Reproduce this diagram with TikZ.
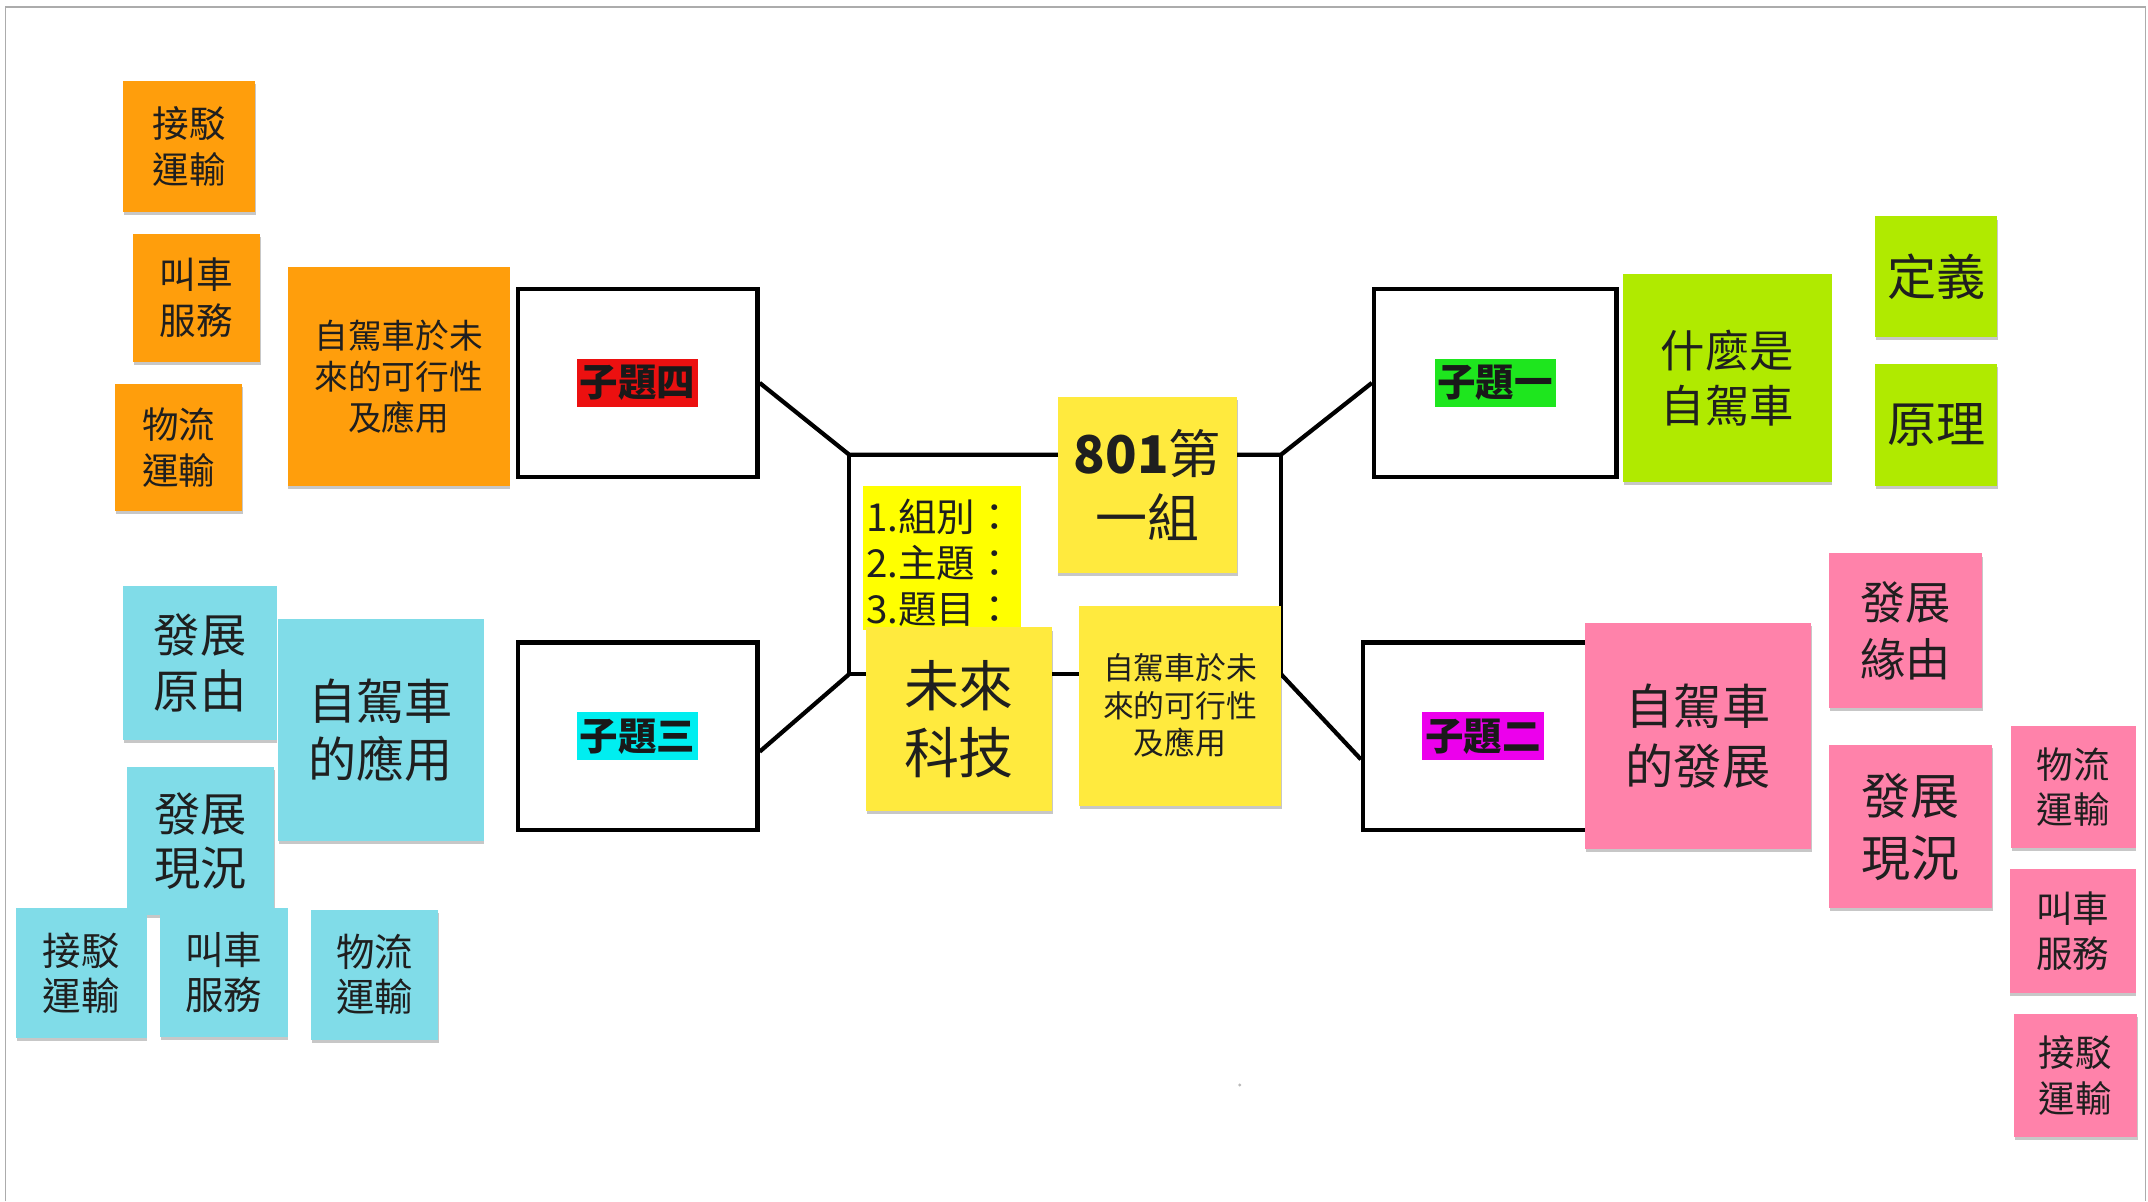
\documentclass[tikz,border=0pt]{standalone}
\usepackage{fontspec}
\setmainfont{Noto Sans CJK TC}
\usetikzlibrary{shadows,fit,calc}
\definecolor{cOrange}{RGB}{255,158,12}
\definecolor{cYellow}{RGB}{255,234,62}
\definecolor{cHL}{RGB}{255,255,0}
\definecolor{cLime}{RGB}{176,234,0}
\definecolor{cPink}{RGB}{255,130,170}
\definecolor{cCyan}{RGB}{128,220,232}
\definecolor{tRed}{RGB}{236,16,16}
\definecolor{tGreen}{RGB}{30,230,30}
\definecolor{tMag}{RGB}{236,0,236}
\definecolor{tCyan}{RGB}{0,238,240}
\newcommand\fsz[2]{\fontsize{#1pt}{#2pt}\selectfont}
% \sticky{name}{x1}{y1}{x2}{y2}{colour}{font}{text}
\newcommand\sticky[8]{\node[note, fill=#6, font=#7,
  minimum width={(#4-#2)*0.025cm}, minimum height={(#5-#3)*0.025cm}]
  (#1) at ({(#2+#4)/2},{(#3+#5)/2}) {#8};}
\begin{document}
\begin{tikzpicture}[x=0.025cm,y=-0.025cm,
  note/.style={inner sep=0pt, draw=none, align=center, text=black!88,
    drop shadow={shadow xshift=0.4pt, shadow yshift=-1.6pt, opacity=0.22, fill=black}},
  topicbox/.style={draw=black, line width=2.2pt, fill=white, inner sep=0pt},
  tag/.style={inner sep=0pt, minimum width=63pt, minimum height=25pt, text=black!90,
    font=\fsz{20}{24}\bfseries},
  wire/.style={draw=black, line width=2.2pt, line join=miter}]
\useasboundingbox (0,0) rectangle (1568,877);
\fill[white] (0,0) rectangle (1568,877);
\draw[gray!65, line width=0.8pt] (4,877) -- (4,5) -- (1566,5) -- (1566,877);

% topic boxes
\node[topicbox, fit={(378,211) (553,348)}] (b4) {};
\node[topicbox, fit={(378,469) (553,606)}] (b3) {};
\node[topicbox, fit={(1003,211) (1180,348)}] (b1) {};
\node[topicbox, fit={(995,469) (1170,606)}] (b2) {};
\node[tag, fill=tRed] (t4) at (b4) {子題四};
\node[tag, fill=tCyan] (t3) at (b3) {子題三};
\node[tag, fill=tGreen] (t1) at (b1) {子題一};
\node[tag, fill=tMag] (t2) at (b2) {子題二};

% connectors
\coordinate (c1) at (620,332);
\coordinate (c2) at (935,332);
\coordinate (c3) at (620,492);
\coordinate (c4) at (935,492);
\draw[wire] (b4.east) -- (c1) -- (c2) -- (b1.west);
\draw[wire] (c1) -- (c3) -- (c4) -- (c2);
\draw[wire] (c3) -- ($(b3.north east)!0.58!(b3.south east)$);
\draw[wire] (c4) -- ($(b2.north west)!0.62!(b2.south west)$);

% orange
\sticky{o1}{90}{59}{186}{155}{cOrange}{\fsz{19}{24}}{接駁\\運輸}
\sticky{o2}{97}{171}{190}{264}{cOrange}{\fsz{19}{24}}{叫車\\服務}
\sticky{o3}{84}{280}{177}{373}{cOrange}{\fsz{19}{24}}{物流\\運輸}
\sticky{o4}{210}{195}{372}{355}{cOrange}{\fsz{17.5}{21.5}}{自駕車於未\\來的可行性\\及應用}

% yellow centre
\sticky{y1}{772}{290}{903}{418}{cYellow}{\fsz{27}{33}}{{\bfseries 801}第\\一組}
\node[fill=cHL, inner sep=0pt, fit={(630,355) (745,460)}] (hl) {};
\node[anchor=north west, align=left, inner sep=0pt, font=\fsz{20}{24}, text=black!88] (ql) at (632,364) {1.組別：\\2.主題：\\3.題目：};
\sticky{y2}{632}{458}{768}{592}{cYellow}{\fsz{28.5}{35}}{未來\\科技}
\sticky{y3}{788}{442}{935}{588}{cYellow}{\fsz{16}{19.5}}{自駕車於未\\來的可行性\\及應用}

% lime
\sticky{g1}{1185}{200}{1337}{352}{cLime}{\fsz{23}{28.5}}{什麼是\\自駕車}
\sticky{g2}{1369}{158}{1458}{246}{cLime}{\fsz{25.5}{30}}{定義}
\sticky{g3}{1369}{266}{1458}{355}{cLime}{\fsz{25.5}{30}}{原理}

% pink
\sticky{p1}{1157}{455}{1322}{620}{cPink}{\fsz{25}{31}}{自駕車\\的發展}
\sticky{p2}{1335}{404}{1447}{517}{cPink}{\fsz{23.5}{30}}{發展\\緣由}
\sticky{p3}{1335}{544}{1454}{663}{cPink}{\fsz{25.5}{32}}{發展\\現況}
\sticky{p4}{1468}{530}{1559}{619}{cPink}{\fsz{19}{23.5}}{物流\\運輸}
\sticky{p5}{1467}{634}{1559}{725}{cPink}{\fsz{19}{23.5}}{叫車\\服務}
\sticky{p6}{1470}{740}{1560}{830}{cPink}{\fsz{19}{23.5}}{接駁\\運輸}

% cyan
\sticky{k2}{90}{428}{202}{540}{cCyan}{\fsz{24}{29}}{發展\\原由}
\sticky{k3}{93}{560}{200}{668}{cCyan}{\fsz{24}{28}}{發展\\現況}
\sticky{k1}{203}{452}{353}{614}{cCyan}{\fsz{25}{30.5}}{自駕車\\的應用}
\sticky{k4}{12}{663}{107}{758}{cCyan}{\fsz{20}{23.5}}{接駁\\運輸}
\sticky{k5}{117}{663}{210}{757}{cCyan}{\fsz{20}{23.5}}{叫車\\服務}
\sticky{k6}{227}{664}{320}{759}{cCyan}{\fsz{20}{23.5}}{物流\\運輸}

\fill[gray!55] (905,792) circle (1.2);
\end{tikzpicture}
\end{document}
